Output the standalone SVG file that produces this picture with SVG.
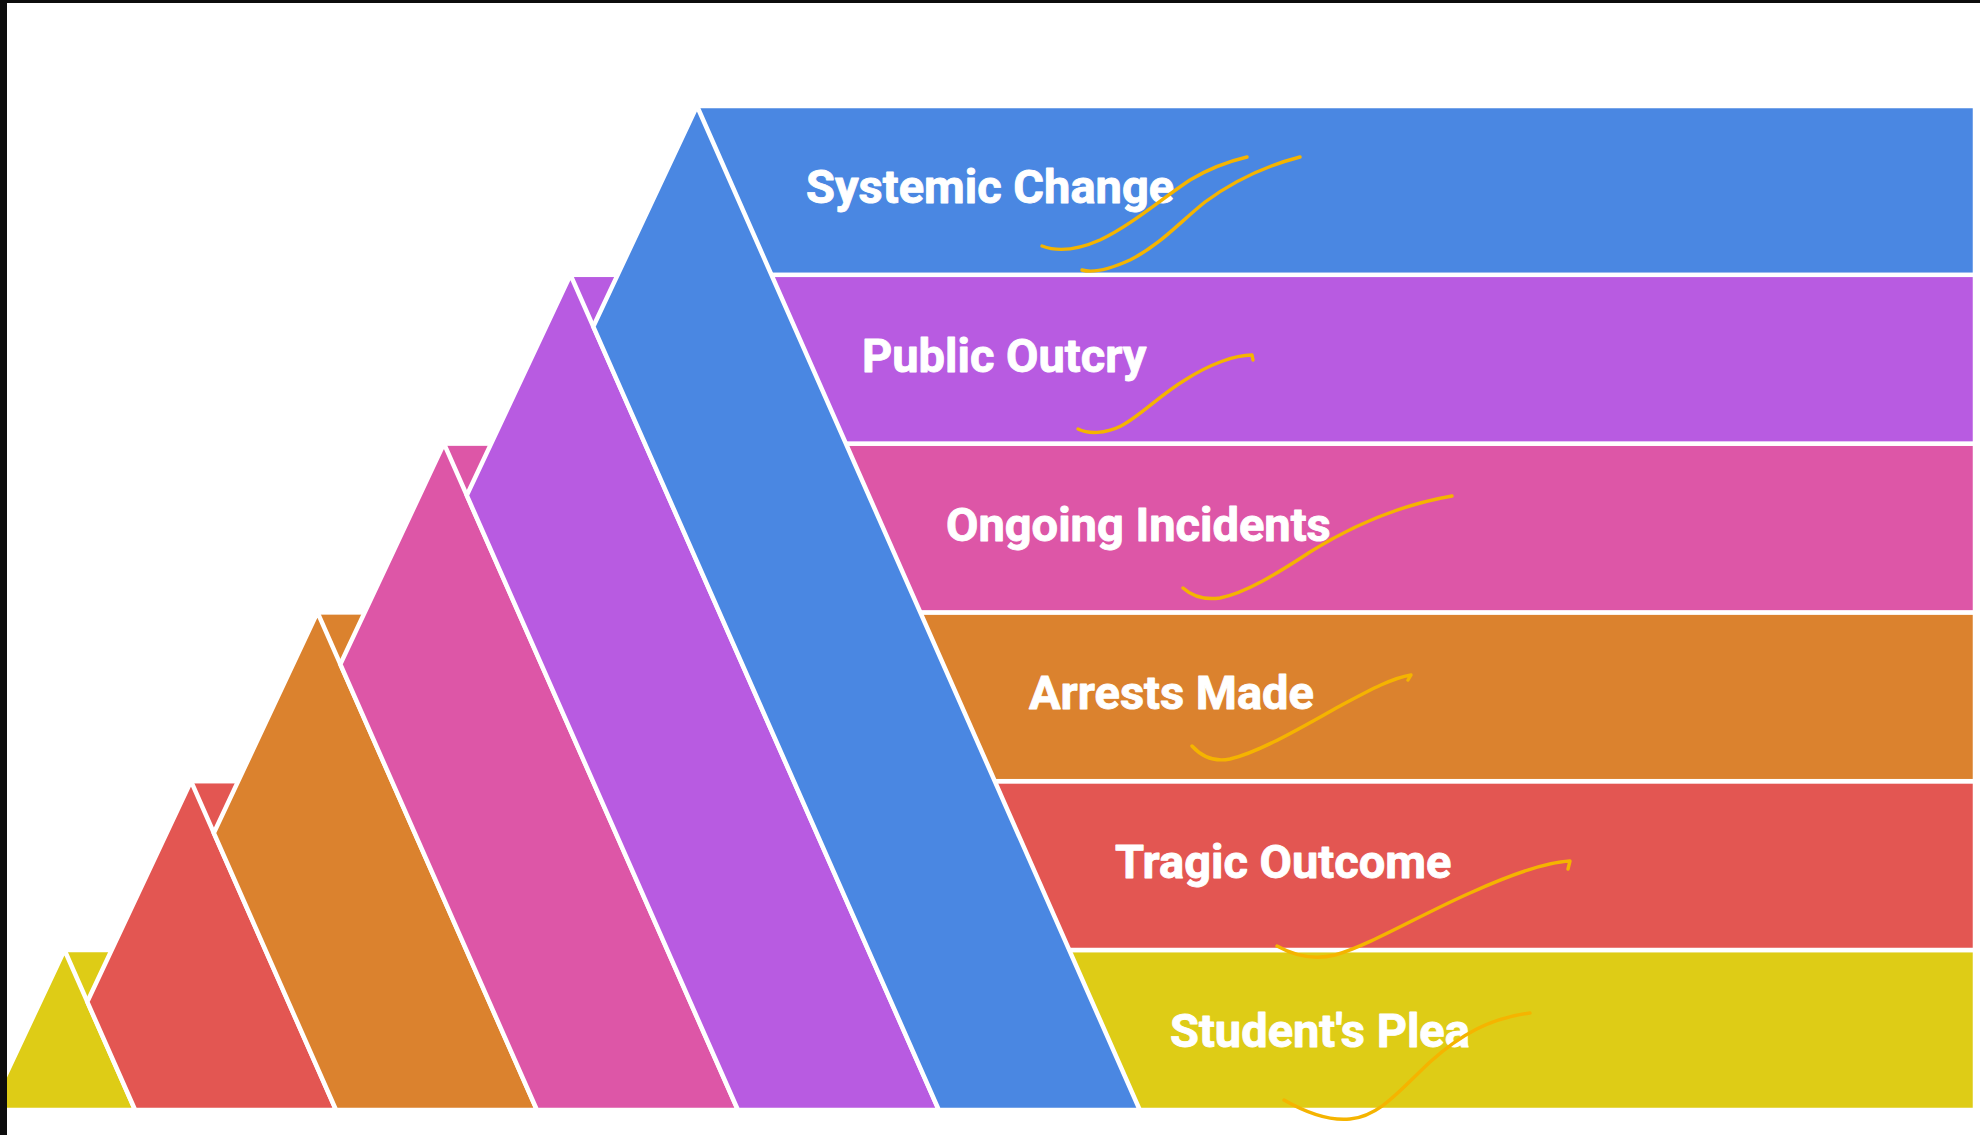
<svg xmlns="http://www.w3.org/2000/svg" width="1980" height="1135" viewBox="0 0 1980 1135">
  <style>
    .band, .strip { stroke: #ffffff; stroke-width: 4.5; stroke-linejoin: miter; }
    .label { font-family: Roboto, "Liberation Sans", sans-serif; font-weight: 700; font-size: 47px; fill: #ffffff; stroke: #ffffff; stroke-width: 0.9; stroke-linejoin: round; }
    .note { fill: none; stroke: #F5B400; stroke-width: 3.4; stroke-linecap: round; stroke-linejoin: round; }
    .blue { fill: #4A87E2; }
    .purple { fill: #B85BE1; }
    .pink { fill: #DD56A7; }
    .orange { fill: #DB822E; }
    .red { fill: #E35652; }
    .yellow { fill: #DECC16; }
  </style>
  <rect x="0" y="0" width="1980" height="1135" fill="#ffffff"/>

  <g id="students-plea">
    <rect class="band yellow" x="64.5" y="950" width="1910.5" height="160"/>
    <polygon class="strip yellow" points="64.5,950 135.1,1110 -10.7,1110"/>
    <text class="label" x="1170" y="1047">Student's Plea</text>
  </g>

  <g id="tragic-outcome">
    <rect class="band red" x="191" y="781.2" width="1784" height="168.8"/>
    <polygon class="strip red" points="191,781.2 336,1110 135.1,1110 87.3,1001.8"/>
    <text class="label" x="1115" y="878">Tragic Outcome</text>
  </g>

  <g id="arrests-made">
    <rect class="band orange" x="317.5" y="612.4" width="1657.5" height="168.8"/>
    <polygon class="strip orange" points="317.5,612.4 536.9,1110 336,1110 213.8,833"/>
    <text class="label" x="1029" y="709">Arrests Made</text>
  </g>

  <g id="ongoing-incidents">
    <rect class="band pink" x="444" y="443.6" width="1531" height="168.8"/>
    <polygon class="strip pink" points="444,443.6 737.9,1110 536.9,1110 340.3,664.2"/>
    <text class="label" x="946" y="541">Ongoing Incidents</text>
  </g>

  <g id="public-outcry">
    <rect class="band purple" x="570.5" y="274.8" width="1404.5" height="168.8"/>
    <polygon class="strip purple" points="570.5,274.8 938.8,1110 737.9,1110 466.8,495.4"/>
    <text class="label" x="862" y="372">Public Outcry</text>
  </g>

  <g id="systemic-change">
    <rect class="band blue" x="697" y="106" width="1278" height="168.8"/>
    <polygon class="strip blue" points="697,106 1139.8,1110 938.8,1110 593.3,326.6"/>
    <text class="label" x="806" y="203">Systemic Change</text>
  </g>

  <g id="annotations">
    <path class="note" d="M1042,246 C1055,251 1075,251 1100,240 C1130,226 1160,200 1190,180 C1210,168 1230,161 1247,157"/>
    <path class="note" d="M1082,270 C1092,273 1108,270 1130,260 C1160,245 1180,222 1205,202 C1235,180 1265,166 1300,157"/>
    <path class="note" d="M1078,429 C1088,434 1105,434 1121,426 C1140,416 1160,395 1185,380 C1210,364 1235,355 1252,355 L1253,360"/>
    <path class="note" d="M1183,588 C1193,597 1205,600 1220,598 C1245,593 1275,575 1310,552 C1350,527 1400,505 1452,496"/>
    <path class="note" d="M1192,746 C1202,757 1215,762 1230,759 C1260,752 1300,728 1340,706 C1370,690 1392,678 1411,675 L1408,680"/>
    <path class="note" d="M1277,946 C1295,956 1315,960 1335,955 C1370,945 1420,915 1470,893 C1510,875 1545,862 1570,861 L1568,869"/>
    <path class="note" d="M1284,1100 C1305,1112 1330,1121 1350,1119 C1380,1116 1400,1090 1430,1062 C1460,1035 1490,1018 1530,1013"/>
  </g>

  <rect x="0" y="0" width="1980" height="3" fill="#0d0d0d"/>
  <rect x="0" y="0" width="7" height="1135" fill="#0d0d0d"/>
</svg>
